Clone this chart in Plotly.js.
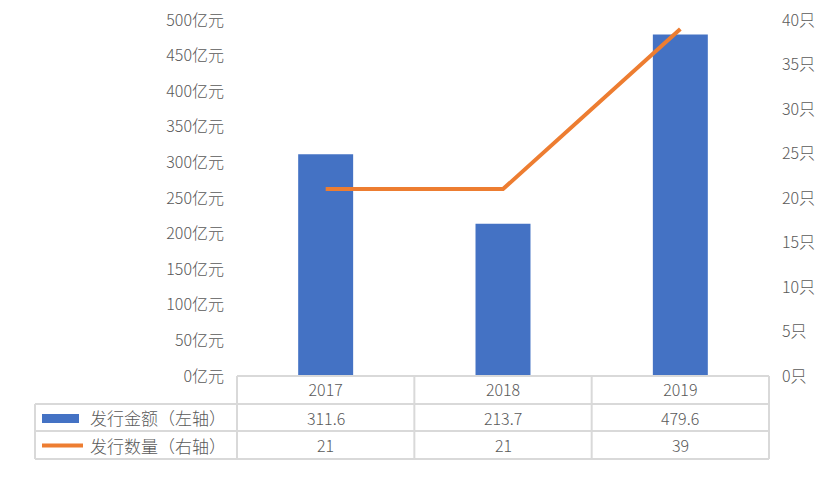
<!DOCTYPE html>
<html>
<head>
<meta charset="utf-8">
<script src="https://cdn.plot.ly/plotly-3.0.1.min.js"></script>
<style>html,body{margin:0;padding:0;background:#fff;}#chart{width:832px;height:486px;}</style>
</head>
<body>
<div id="chart"></div>
<script>
const years = ['2017', '2018', '2019'];
const amount = [311.6, 213.7, 479.6];     // 亿元
const count = [21, 21, 39];              // 只
const amountName = '发行金额（左轴）';
const countName = '发行数量（右轴）';
const leftTicks = [0, 50, 100, 150, 200, 250, 300, 350, 400, 450, 500];
const rightTicks = [0, 5, 10, 15, 20, 25, 30, 35, 40];

const W = 832, H = 486;
const L = 237, R = 769, T = 20, B = 376;
const FONT = '"Noto Sans CJK SC", "Noto Sans", sans-serif';
const WEIGHT = 300;
const GREY = '#595959';
const LINE = '#d9d9d9';
const BLUE = '#4472C4', ORANGE = '#ED7D31';

const px = x => (x - L) / (R - L);
const py = y => (B - y) / (B - T);

const rowY = [376, 404, 431, 459];
const tableLeft = 35;
const colW = (R - L) / years.length;

const traces = [
  {type: 'bar', x: years, y: amount, name: amountName, marker: {color: BLUE}, width: 0.31, yaxis: 'y', hoverinfo: 'none'},
  {type: 'scatter', mode: 'lines', x: years, y: count, name: countName, line: {color: ORANGE, width: 4}, yaxis: 'y2', hoverinfo: 'none'}
];

const shapes = [];
const lineStyle = {color: LINE, width: 2};
shapes.push({type: 'line', xref: 'paper', yref: 'paper', x0: 0, x1: 1, y0: py(rowY[0]), y1: py(rowY[0]), line: lineStyle});
for (let r = 1; r < rowY.length; r++) {
  shapes.push({type: 'line', xref: 'paper', yref: 'paper', x0: px(tableLeft), x1: 1, y0: py(rowY[r]), y1: py(rowY[r]), line: lineStyle});
}
for (let i = 0; i <= years.length; i++) {
  const xv = px(L + i * colW);
  shapes.push({type: 'line', xref: 'paper', yref: 'paper', x0: xv, x1: xv, y0: py(rowY[0]), y1: py(rowY[3]), line: lineStyle});
}
shapes.push({type: 'line', xref: 'paper', yref: 'paper', x0: px(tableLeft), x1: px(tableLeft), y0: py(rowY[1]), y1: py(rowY[3]), line: lineStyle});
shapes.push({type: 'rect', xref: 'paper', yref: 'paper', x0: px(42), x1: px(79), y0: py(414), y1: py(423), fillcolor: BLUE, line: {width: 0}});
shapes.push({type: 'line', xref: 'paper', yref: 'paper', x0: px(42), x1: px(83), y0: py(445.5), y1: py(445.5), line: {color: ORANGE, width: 4}});

const annotations = [];
const tf = {family: FONT, size: 16, color: GREY, weight: WEIGHT};
const nf = {family: FONT, size: 17, color: GREY, weight: WEIGHT};
const mid = (a, b) => py((a + b) / 2);
years.forEach((yr, i) => {
  const cx = px(L + (i + 0.5) * colW);
  annotations.push({xref: 'paper', yref: 'paper', x: cx, y: mid(rowY[1], rowY[2]), text: amount[i].toFixed(1), showarrow: false, font: tf, xanchor: 'center', yanchor: 'middle'});
  annotations.push({xref: 'paper', yref: 'paper', x: cx, y: mid(rowY[2], rowY[3]), text: String(count[i]), showarrow: false, font: tf, xanchor: 'center', yanchor: 'middle'});
});
annotations.push({xref: 'paper', yref: 'paper', x: px(88), y: mid(rowY[1], rowY[2]), text: amountName, showarrow: false, font: nf, xanchor: 'left', yanchor: 'middle'});
annotations.push({xref: 'paper', yref: 'paper', x: px(88), y: mid(rowY[2], rowY[3]), text: countName, showarrow: false, font: nf, xanchor: 'left', yanchor: 'middle'});

const tickFont = {family: FONT, size: 16, color: GREY, weight: WEIGHT};
const layout = {
  width: W, height: H,
  margin: {l: L, r: W - R, t: T, b: H - B, pad: 0},
  paper_bgcolor: '#fff', plot_bgcolor: '#fff',
  showlegend: false,
  font: {family: FONT, color: GREY},
  xaxis: {type: 'category', range: [-0.5, 2.5], showgrid: false, zeroline: false, showline: false, ticks: '',
          tickfont: tickFont, ticklabelstandoff: 3, fixedrange: true},
  yaxis: {range: [0, 500], tickvals: leftTicks, ticktext: leftTicks.map(v => v + '亿元'), showgrid: false, zeroline: false,
          showline: false, ticks: '', ticklabelstandoff: 12, tickfont: tickFont},
  yaxis2: {range: [0, 40], overlaying: 'y', side: 'right', tickvals: rightTicks, ticktext: rightTicks.map(v => v + '只'),
           showgrid: false, zeroline: false, showline: false, ticks: '', ticklabelstandoff: 12, tickfont: tickFont},
  shapes: shapes,
  annotations: annotations
};

Plotly.newPlot('chart', traces, layout, {staticPlot: true, displayModeBar: false});
</script>
</body>
</html>
